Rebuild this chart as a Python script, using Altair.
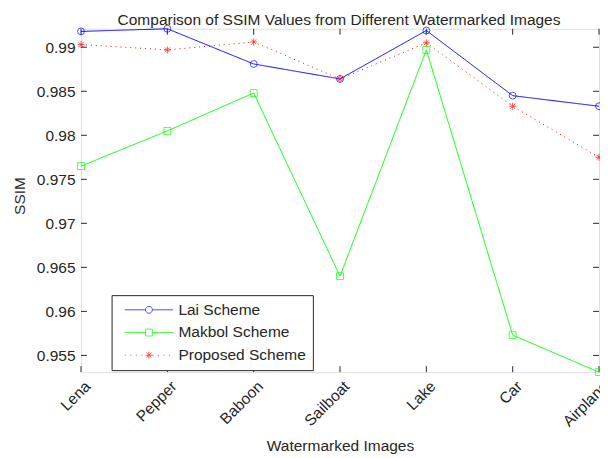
import altair as alt
import pandas as pd

images = ["Lena", "Pepper", "Baboon", "Sailboat", "Lake", "Car", "Airplane"]
lai = [0.9918, 0.9921, 0.9881, 0.9864, 0.9919, 0.9845, 0.9833]
makbol = [0.9765, 0.9805, 0.9848, 0.9640, 0.9897, 0.9573, 0.9531]
proposed = [0.9903, 0.9897, 0.9906, 0.9864, 0.9905, 0.9833, 0.9775]
series = ["Lai Scheme", "Makbol Scheme", "Proposed Scheme"]
y_ticks = [0.955, 0.96, 0.965, 0.97, 0.975, 0.98, 0.985, 0.99]
y_domain = [0.9531, 0.9921]
title_text = ["Comparison of SSIM Values from Different Watermarked Images"]

colors = ["#0000ff", "#00ff00", "#ff0000"]
dashes = [[1, 0], [1, 0], [1, 4]]
FONT = "Liberation Sans"
FS = 15.7
INK = "#262626"
W, H = 525, 348

rows = []
for name, vals in zip(series, [lai, makbol, proposed]):
    for img, v in zip(images, vals):
        rows.append({"Image": img, "SSIM": v, "Series": name})
df = pd.DataFrame(rows)
ytick_df = pd.DataFrame({"SSIM": y_ticks})
xtick_df = pd.DataFrame({"Image": images})
title_df = pd.DataFrame({"t": title_text})

# marker shapes (unit coordinates, scaled by symbol size)
ASTER = "M-1,0L1,0M0,-1L0,1M-0.7,-0.7L0.7,0.7M-0.7,0.7L0.7,-0.7"
shapes = ["circle", "square", ASTER]

# legend symbols: line segment + marker (marker radius = 1 unit, line +-7 units)
LEG_CIRCLE = "M-7,0L-1,0M1,0L7,0M1,0A1,1 0 1,1 -1,0A1,1 0 1,1 1,0Z"
LEG_SQUARE = "M-7,0L-1,0M1,0L7,0M-1,-1L1,-1L1,1L-1,1Z"
dots = "".join("M%.2f,0L%.2f,0" % (-7 + i * 1.6, -7 + i * 1.6 + 0.3) for i in range(9) if i != 4)
LEG_STAR = dots + "M-1,0L1,0M0,-1L0,1M-0.7,-0.7L0.7,0.7M-0.7,0.7L0.7,-0.7"
legend_shapes = [LEG_CIRCLE, LEG_SQUARE, LEG_STAR]

x_enc = alt.X(
    "Image:N",
    scale=alt.Scale(type="point", domain=images, padding=0),
    sort=images,
    axis=alt.Axis(
        title="Watermarked Images",
        labelAngle=-45,
        labelAlign="right",
        labelBaseline="alphabetic",
        labelPadding=15,
        labelOffset=10,
        labelOverlap=False,
        labelBound=False,
        labelFlush=False,
        ticks=False,
        domain=False,
        grid=False,
        labelFont=FONT,
        labelFontSize=FS,
        labelColor=INK,
        titleFont=FONT,
        titleFontSize=FS,
        titleFontWeight="normal",
        titleColor=INK,
        titleY=79,
        titleBaseline="alphabetic",
    ),
)
y_enc = alt.Y(
    "SSIM:Q",
    scale=alt.Scale(domain=y_domain, nice=False, zero=False),
    axis=alt.Axis(
        title="SSIM",
        values=y_ticks,
        format=".3~f",
        ticks=False,
        domain=False,
        grid=False,
        labelPadding=6,
        labelFont=FONT,
        labelFontSize=FS,
        labelColor=INK,
        titleFont=FONT,
        titleFontSize=FS,
        titleFontWeight="normal",
        titleColor=INK,
        titleAngle=-90,
        titleX=-57,
        titleY=169,
        titleAlign="center",
        titleBaseline="alphabetic",
    ),
)

lines = alt.Chart(df).mark_line(strokeWidth=1, clip=False).encode(
    x=x_enc,
    y=y_enc,
    color=alt.Color("Series:N", scale=alt.Scale(domain=series, range=colors), legend=None),
    strokeDash=alt.StrokeDash(
        "Series:N", scale=alt.Scale(domain=series, range=dashes), legend=None
    ),
)

points = alt.Chart(df).mark_point(filled=False, size=49, strokeWidth=1, clip=False).encode(
    x=x_enc,
    y=y_enc,
    color=alt.Color("Series:N", scale=alt.Scale(domain=series, range=colors), legend=None),
    shape=alt.Shape("Series:N", scale=alt.Scale(domain=series, range=shapes), legend=None),
)

legend_props = dict(
    orient="none",
    legendX=31,
    legendY=270,
    title=None,
    direction="vertical",
    labelFont=FONT,
    labelFontSize=FS,
    labelColor=INK,
    symbolSize=49,
    symbolStrokeWidth=1,
    symbolOffset=23,
    labelOffset=22,
    padding=7,
    rowPadding=6,
    strokeColor=INK,
    fillColor="white",
    cornerRadius=0,
)

legend_layer = (
    alt.Chart(df)
    .transform_filter("false")
    .mark_point(filled=False, size=49, strokeWidth=1)
    .encode(
        x=x_enc,
        y=y_enc,
        color=alt.Color(
            "Series:N",
            scale=alt.Scale(domain=series, range=colors),
            legend=alt.Legend(**legend_props),
        ),
        shape=alt.Shape(
            "Series:N",
            scale=alt.Scale(domain=series, range=legend_shapes),
            legend=alt.Legend(**legend_props),
        ),
    )
)

ytick_left = alt.Chart(ytick_df).mark_rule(color=INK, strokeWidth=1).encode(
    y=y_enc, x=alt.value(0), x2=alt.value(6)
)
ytick_right = alt.Chart(ytick_df).mark_rule(color=INK, strokeWidth=1).encode(
    y=y_enc, x=alt.value(W), x2=alt.value(W - 6)
)
xtick_bottom = alt.Chart(xtick_df).mark_rule(color=INK, strokeWidth=1).encode(
    x=x_enc, y=alt.value(H), y2=alt.value(H - 6)
)
xtick_top = alt.Chart(xtick_df).mark_rule(color=INK, strokeWidth=1).encode(
    x=x_enc, y=alt.value(0), y2=alt.value(6)
)

title_layer = alt.Chart(title_df).mark_text(
    font=FONT, fontSize=FS, color=INK, align="center", baseline="alphabetic"
).encode(text="t:N", x=alt.value(W / 2 - 1), y=alt.value(-4))

chart = (
    alt.layer(
        ytick_left, ytick_right, xtick_bottom, xtick_top, lines, points, legend_layer, title_layer
    )
    .resolve_scale(color="independent", shape="independent", strokeDash="independent")
    .resolve_legend(color="independent", shape="independent", strokeDash="independent")
    .properties(
        width=W,
        height=H,
        autosize=alt.AutoSizeParams(type="none"),
        padding={"left": 74, "top": 18, "right": 1, "bottom": 84},
    )
    .configure_view(stroke=INK, strokeWidth=1)
    .configure(background="white")
)

chart.save("out.html", embed_options={"renderer": "svg", "actions": False})
